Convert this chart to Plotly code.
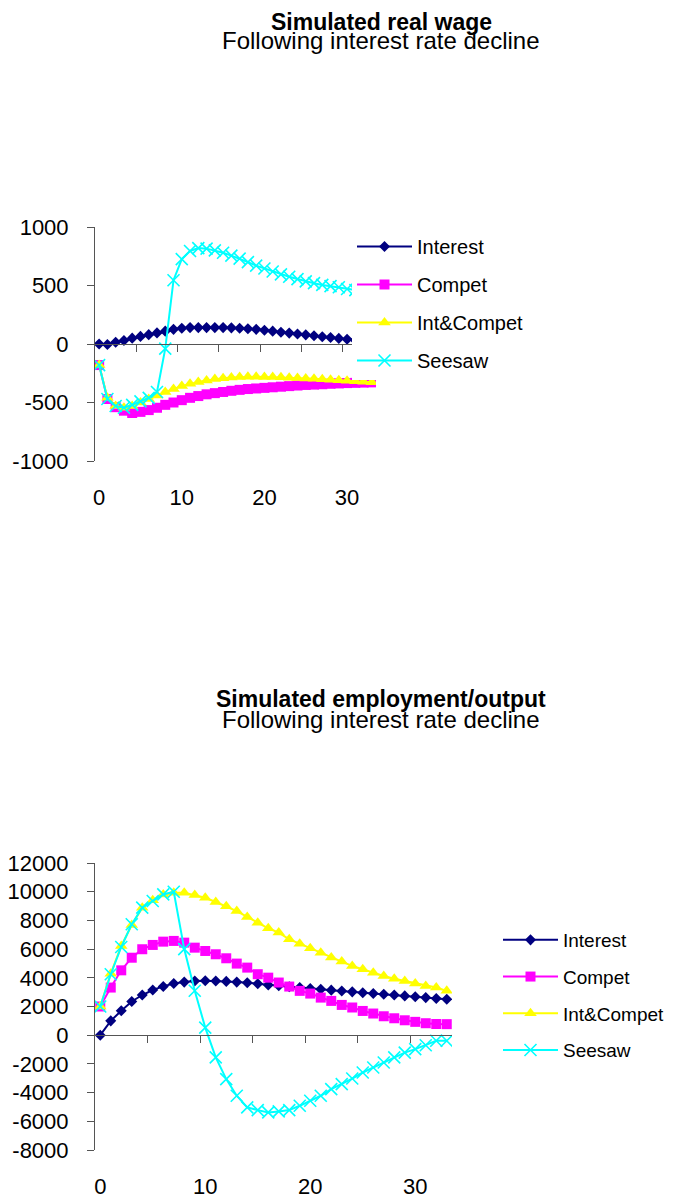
import plotly.graph_objects as go

# Page is rendered with an 8px body margin; figure is sized to fill the rest.
OFF = 8
PW, PH = 675, 1201
W, H = PW - OFF, PH - OFF
FONT = "Liberation Sans, Arial, sans-serif"

periods = list(range(34))

wage_interest = [0, -5, 15, 30, 50, 65, 80, 95, 110, 125, 135, 140, 140, 140, 140, 140, 138,
                 135, 130, 125, 118, 110, 100, 93, 85, 78, 70, 62, 55, 48, 40, 33, 27, 20]
wage_compet = [-180, -470, -540, -570, -590, -580, -565, -545, -520, -500, -480, -460, -445,
               -430, -420, -410, -400, -392, -385, -380, -375, -370, -365, -360, -355, -350,
               -347, -344, -340, -337, -334, -332, -330, -328]
wage_intcompet = [-180, -460, -530, -545, -530, -500, -470, -440, -410, -385, -360, -340, -325,
                  -312, -300, -292, -287, -283, -280, -280, -281, -283, -285, -288, -291, -295,
                  -298, -302, -306, -310, -314, -318, -322, -326]
wage_seesaw = [-180, -470, -530, -545, -520, -490, -460, -410, -40, 545, 725, 795, 820, 815,
               800, 780, 755, 730, 700, 670, 645, 620, 595, 575, 555, 535, 520, 505, 495, 485,
               470, 460, 450, 440]

emp_interest = [0, 1000, 1700, 2350, 2800, 3150, 3400, 3600, 3700, 3780, 3800, 3780, 3750,
                3700, 3650, 3580, 3500, 3440, 3380, 3320, 3260, 3200, 3140, 3080, 3020, 2960,
                2900, 2850, 2800, 2740, 2680, 2620, 2560, 2500]
emp_compet = [2000, 3320, 4520, 5400, 5990, 6290, 6520, 6570, 6450, 6100, 5870, 5640, 5360,
              4990, 4710, 4250, 4010, 3670, 3390, 3090, 2900, 2620, 2390, 2110, 1930, 1690,
              1510, 1320, 1180, 1040, 930, 835, 780, 770]
emp_intcompet = [2000, 4290, 6220, 7680, 8890, 9400, 9810, 9930, 9930, 9770, 9580, 9280, 8980,
                 8650, 8240, 7840, 7450, 7150, 6680, 6380, 6060, 5750, 5410, 5130, 4830, 4590,
                 4360, 4130, 3940, 3780, 3600, 3430, 3320, 3090]
emp_seesaw = [2000, 4250, 6150, 7730, 8890, 9350, 9810, 10000, 6000, 3100, 530, -1550, -3060,
              -4220, -5030, -5220, -5380, -5310, -5220, -4920, -4570, -4220, -3760, -3410,
              -3020, -2600, -2250, -1900, -1550, -1210, -970, -700, -390, -390]

series_names = ["Interest", "Compet", "Int&Compet", "Seesaw"]
colors = ["#000080", "#FF00FF", "#FFFF00", "#00FFFF"]
symbols = ["diamond", "square", "triangle-up", "x-thin"]
msizes = [8.5, 10, 11, 12]

x_tick_vals = [0, 10, 20, 30]
x_tick_text = ["0", "10", "20", "30"]
top_y_vals = [-1000, -500, 0, 500, 1000]
top_y_text = ["-1000", "-500", "0", "500", "1000"]
bot_y_vals = [-8000, -6000, -4000, -2000, 0, 2000, 4000, 6000, 8000, 10000, 12000]
bot_y_text = ["-8000", "-6000", "-4000", "-2000", "0", "2000", "4000", "6000", "8000",
              "10000", "12000"]

title1, sub1 = "Simulated real wage", "Following interest rate decline"
title2, sub2 = "Simulated employment/output", "Following interest rate decline"


def px_x(p):
    return (p - OFF) / W


def px_y(p):
    return 1 - (p - OFF) / H


fig = go.Figure()

top_data = [wage_interest, wage_compet, wage_intcompet, wage_seesaw]
bot_data = [emp_interest, emp_compet, emp_intcompet, emp_seesaw]


def marker(i):
    mk = dict(symbol=symbols[i], size=msizes[i], color=colors[i])
    if symbols[i] == "x-thin":
        mk["line"] = dict(color=colors[i], width=1.6)
    else:
        mk["line"] = dict(width=0)
    return mk


for i, name in enumerate(series_names):
    fig.add_trace(go.Scatter(x=periods, y=top_data[i], name=name, mode="lines+markers",
                             line=dict(color=colors[i], width=2), marker=marker(i),
                             xaxis="x", yaxis="y", legend="legend",
                             legendgroup="t" + str(i)))
for i, name in enumerate(series_names):
    fig.add_trace(go.Scatter(x=periods, y=bot_data[i], name=name, mode="lines+markers",
                             line=dict(color=colors[i], width=2), marker=marker(i),
                             xaxis="x2", yaxis="y2", legend="legend2",
                             legendgroup="b" + str(i)))

fig.add_trace(go.Scatter(x=[None], y=[None], xaxis="x3", yaxis="y", showlegend=False,
                         hoverinfo="skip"))
fig.add_trace(go.Scatter(x=[None], y=[None], xaxis="x4", yaxis="y2", showlegend=False,
                         hoverinfo="skip"))

AX = "#555555"
tickfont = dict(family=FONT, size=22, color="black")

t_dom_x = [px_x(95), px_x(376)]
t_dom_y = [px_y(461), px_y(227)]
b_dom_x = [px_x(95), px_x(452)]
b_dom_y = [px_y(1150), px_y(863)]

t_zero = t_dom_y[0] + (0 - (-1000)) / 2000 * (t_dom_y[1] - t_dom_y[0])
b_zero = b_dom_y[0] + (0 - (-8000)) / 20000 * (b_dom_y[1] - b_dom_y[0])

xr = [-0.5, 33.5]
minor_ticks = [4.5, 9.5, 14.5, 19.5, 24.5, 29.5]

label_x = dict(range=xr, tickvals=x_tick_vals, ticktext=x_tick_text, showline=False,
               showgrid=False, zeroline=False, ticks="", tickfont=tickfont,
               ticklabelstandoff=21, automargin=False)
zero_x = dict(anchor="free", range=xr, tickvals=minor_ticks, showticklabels=False,
              showline=True, linecolor=AX, linewidth=1, ticks="outside", ticklen=7,
              tickcolor=AX, showgrid=False, zeroline=False, automargin=False)
yax = dict(showline=True, linecolor=AX, linewidth=1, ticks="outside", ticklen=7,
           tickcolor=AX, showgrid=False, zeroline=False, tickfont=tickfont,
           ticklabelstandoff=14, automargin=False)
leg = dict(xanchor="left", yanchor="top", bgcolor="white", borderwidth=0,
           traceorder="grouped", tracegroupgap=9, itemwidth=55)

fig.update_layout(
    width=W, height=H, autosize=False,
    margin=dict(l=0, r=0, t=0, b=0, pad=0),
    paper_bgcolor="white", plot_bgcolor="white",
    font=dict(family=FONT, color="black"),
    showlegend=True,
    xaxis=dict(domain=t_dom_x, anchor="y", **label_x),
    yaxis=dict(domain=t_dom_y, anchor="x", range=[-1000, 1000], tickvals=top_y_vals,
               ticktext=top_y_text, **yax),
    xaxis3=dict(overlaying="x", position=t_zero, domain=t_dom_x, **zero_x),
    xaxis2=dict(domain=b_dom_x, anchor="y2", **label_x),
    yaxis2=dict(domain=b_dom_y, anchor="x2", range=[-8000, 12000], tickvals=bot_y_vals,
                ticktext=bot_y_text, **yax),
    xaxis4=dict(overlaying="x2", position=b_zero, domain=b_dom_x, **zero_x),
    legend=dict(x=px_x(352), y=px_y(227), font=dict(family=FONT, size=20, color="black"),
                **leg),
    legend2=dict(x=px_x(498), y=px_y(921), font=dict(family=FONT, size=19, color="black"),
                 **leg),
)

# (text, page-y, anchor, bold)
anns = [
    (title1, 8, "top", True), (sub1, 40, "middle", False),
    (title2, 699, "middle", True), (sub2, 719.5, "middle", False),
]
for text, yp, anchor, bold in anns:
    fig.add_annotation(text=("<b>%s</b>" % text) if bold else text, x=px_x(381), y=px_y(yp),
                       xref="paper", yref="paper", xanchor="center", yanchor=anchor,
                       showarrow=False, borderpad=0,
                       font=dict(family=FONT, size=23 if bold else 24, color="black"))

fig.write_html("out.html")
